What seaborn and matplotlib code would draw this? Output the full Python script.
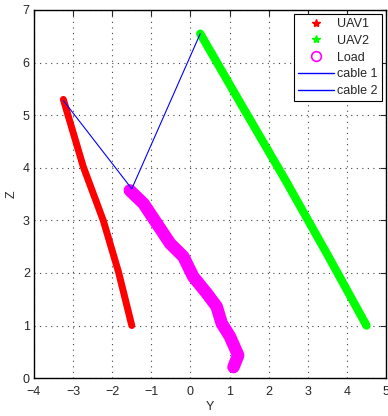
import matplotlib
matplotlib.use("Agg")
import matplotlib.pyplot as plt
import seaborn as sns
import pandas as pd
from matplotlib.lines import Line2D

uav1_y = [-3.25, -2.74, -2.23, -1.84, -1.5]
uav1_z = [5.30, 4.02, 3.0, 2.02, 1.0]
uav2_y = [0.25, 1.3, 2.4, 3.5, 4.5]
uav2_z = [6.55, 5.2, 3.8, 2.35, 1.0]
load_y = [-1.55, -1.2, -0.86, -0.52, -0.18, 0.07, 0.42, 0.67, 0.80, 1.01, 1.22, 1.22, 1.10]
load_z = [3.57, 3.32, 2.94, 2.56, 2.31, 1.93, 1.61, 1.36, 1.04, 0.79, 0.53, 0.34, 0.21]
cable1_y = [-3.25, -1.5]
cable1_z = [5.28, 3.6]
cable2_y = [0.25, -1.5]
cable2_z = [6.55, 3.6]

sns.set_style("white")
plt.rcParams['font.family'] = ['Liberation Sans', 'DejaVu Sans']

fig = plt.figure(figsize=(3.88, 4.16), dpi=100)
ax = fig.add_axes([0.0876, 0.091, 0.9074, 0.885])

d1 = pd.DataFrame({"Y": uav1_y, "Z": uav1_z})
d2 = pd.DataFrame({"Y": uav2_y, "Z": uav2_z})
dl = pd.DataFrame({"Y": load_y, "Z": load_z})

sns.lineplot(data=d1, x="Y", y="Z", sort=False, color="#ff0000", lw=5, ax=ax,
             solid_capstyle="round", solid_joinstyle="round")
sns.lineplot(data=d2, x="Y", y="Z", sort=False, color="#00ff00", lw=6, ax=ax,
             solid_capstyle="round", solid_joinstyle="round")
sns.lineplot(data=dl, x="Y", y="Z", sort=False, color="#ff00ff", lw=9, ax=ax,
             solid_capstyle="round", solid_joinstyle="round")
sns.lineplot(x=cable1_y, y=cable1_z, sort=False, color="#0000ff", lw=0.8, ax=ax)
sns.lineplot(x=cable2_y, y=cable2_z, sort=False, color="#0000ff", lw=0.8, ax=ax)

ax.set_xlim(-4, 5)
ax.set_ylim(0, 7)
ax.set_xticks(range(-4, 6))
ax.set_yticks(range(0, 8))
ax.set_xticklabels([str(v).replace('-', '\u2212') for v in range(-4, 6)])
ax.grid(True, linestyle=(0, (1, 4)), color="#444444", lw=0.8)
ax.tick_params(direction="in", top=True, right=True, labelsize=9, length=4, width=0.8, pad=3)
ax.tick_params(axis="x", pad=6)
for s in ax.spines.values():
    s.set_color("black")
    s.set_linewidth(1.0)
ax.set_xlabel("Y", fontsize=9, labelpad=2)
ax.set_ylabel("Z", fontsize=9, labelpad=4)

handles = [
    Line2D([], [], ls="none", marker="*", color="#ff0000", markersize=6),
    Line2D([], [], ls="none", marker="*", color="#00ff00", markersize=6),
    Line2D([], [], ls="none", marker="o", markerfacecolor="none", markeredgecolor="#ff00ff",
           markersize=7, markeredgewidth=1.2),
    Line2D([], [], color="#0000ff", lw=1.0),
    Line2D([], [], color="#0000ff", lw=1.0),
]
leg = ax.legend(handles, ["UAV1", "UAV2", "Load", "cable 1", "cable 2"], loc="upper right",
                fontsize=9, frameon=True, fancybox=False, framealpha=1, edgecolor="black",
                borderpad=0.35, labelspacing=0.38, handlelength=2.9, handletextpad=0.25,
                borderaxespad=0.3)
leg.get_frame().set_linewidth(0.8)

fig.savefig("out.png", dpi=100)
